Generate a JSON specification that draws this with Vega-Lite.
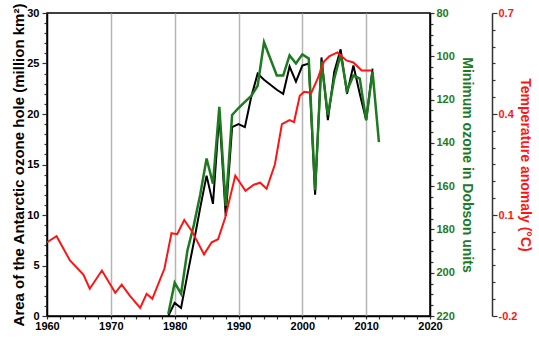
{
  "$schema": "https://vega.github.io/schema/vega-lite/v6.json",
  "width": 383,
  "height": 303,
  "autosize": {"type": "none"},
  "padding": {"left": 47, "top": 13, "right": 109, "bottom": 29},
  "background": "white",
  "datasets": {
    "area": [
      {"year": 1979, "area": 0.0}, {"year": 1980, "area": 1.3}, {"year": 1981, "area": 0.8},
      {"year": 1982, "area": 4.1}, {"year": 1983, "area": 7.3}, {"year": 1984, "area": 10.7},
      {"year": 1985, "area": 13.9}, {"year": 1986, "area": 11.1}, {"year": 1987, "area": 20.0},
      {"year": 1988, "area": 9.9}, {"year": 1989, "area": 18.7}, {"year": 1990, "area": 19.0},
      {"year": 1991, "area": 18.7}, {"year": 1992, "area": 21.7}, {"year": 1993, "area": 24.0},
      {"year": 1994, "area": 23.4}, {"year": 1996, "area": 22.4}, {"year": 1997, "area": 22.0},
      {"year": 1998, "area": 24.7}, {"year": 1999, "area": 23.2}, {"year": 2000, "area": 24.8},
      {"year": 2001, "area": 25.0}, {"year": 2002, "area": 12.0}, {"year": 2003, "area": 25.6},
      {"year": 2004, "area": 19.4}, {"year": 2005, "area": 24.2}, {"year": 2006, "area": 26.4},
      {"year": 2007, "area": 22.0}, {"year": 2008, "area": 24.8}, {"year": 2009, "area": 22.0},
      {"year": 2010, "area": 19.4}, {"year": 2011, "area": 24.5}
    ],
    "ozone": [
      {"year": 1979, "ozone": 219.1}, {"year": 1980, "ozone": 204.6}, {"year": 1981, "ozone": 209.7},
      {"year": 1982, "ozone": 189.7}, {"year": 1983, "ozone": 178.0}, {"year": 1984, "ozone": 164.0},
      {"year": 1985, "ozone": 147.2}, {"year": 1986, "ozone": 158.9}, {"year": 1987, "ozone": 123.4},
      {"year": 1988, "ozone": 169.1}, {"year": 1989, "ozone": 127.1}, {"year": 1990, "ozone": 123.9},
      {"year": 1991, "ozone": 121.1}, {"year": 1992, "ozone": 118.3}, {"year": 1993, "ozone": 113.6},
      {"year": 1994, "ozone": 93.5}, {"year": 1996, "ozone": 108.9}, {"year": 1997, "ozone": 108.9},
      {"year": 1998, "ozone": 99.6}, {"year": 1999, "ozone": 103.3}, {"year": 2000, "ozone": 99.1},
      {"year": 2001, "ozone": 101.0}, {"year": 2002, "ozone": 161.7}, {"year": 2003, "ozone": 102.4},
      {"year": 2004, "ozone": 127.1}, {"year": 2005, "ozone": 110.3}, {"year": 2006, "ozone": 99.1},
      {"year": 2007, "ozone": 115.9}, {"year": 2008, "ozone": 108.9}, {"year": 2009, "ozone": 110.3},
      {"year": 2010, "ozone": 129.5}, {"year": 2011, "ozone": 107.1}, {"year": 2012, "ozone": 139.7}
    ],
    "temp": [
      {"year": 1960.0, "temp": 0.019}, {"year": 1961.5, "temp": 0.037}, {"year": 1963.6, "temp": -0.035},
      {"year": 1965.7, "temp": -0.077}, {"year": 1966.7, "temp": -0.119}, {"year": 1968.6, "temp": -0.065},
      {"year": 1970.7, "temp": -0.131}, {"year": 1971.7, "temp": -0.107}, {"year": 1973.0, "temp": -0.14},
      {"year": 1974.6, "temp": -0.176}, {"year": 1975.6, "temp": -0.134}, {"year": 1976.5, "temp": -0.149},
      {"year": 1978.4, "temp": -0.059}, {"year": 1979.5, "temp": 0.046}, {"year": 1980.4, "temp": 0.043},
      {"year": 1981.5, "temp": 0.085}, {"year": 1982.7, "temp": 0.052}, {"year": 1984.6, "temp": -0.017},
      {"year": 1985.8, "temp": 0.019}, {"year": 1986.8, "temp": 0.028}, {"year": 1987.9, "temp": 0.091},
      {"year": 1989.5, "temp": 0.217}, {"year": 1991.1, "temp": 0.172}, {"year": 1992.4, "temp": 0.19},
      {"year": 1993.4, "temp": 0.196}, {"year": 1994.4, "temp": 0.178}, {"year": 1995.7, "temp": 0.25},
      {"year": 1996.8, "temp": 0.37}, {"year": 1998.0, "temp": 0.382}, {"year": 1998.7, "temp": 0.376},
      {"year": 1999.6, "temp": 0.454}, {"year": 2000.3, "temp": 0.466}, {"year": 2001.4, "temp": 0.463},
      {"year": 2002.4, "temp": 0.505}, {"year": 2003.4, "temp": 0.556}, {"year": 2004.2, "temp": 0.571},
      {"year": 2005.5, "temp": 0.583}, {"year": 2006.9, "temp": 0.559}, {"year": 2008.0, "temp": 0.553},
      {"year": 2009.3, "temp": 0.529}, {"year": 2010.8, "temp": 0.529}
    ]
  },
  "encoding": {
    "x": {
      "field": "year",
      "type": "quantitative",
      "scale": {"domain": [1960, 2020], "nice": false, "zero": false},
      "axis": {
        "title": null,
        "values": [1960,1962,1964,1966,1968,1970,1972,1974,1976,1978,1980,1982,1984,1986,1988,1990,1992,1994,1996,1998,2000,2002,2004,2006,2008,2010,2012,2014,2016,2018,2020],
        "labelExpr": "datum.value % 10 === 0 ? '' + datum.value : ''",
        "tickSize": 3,
        "labelPadding": 1,
        "grid": true,
        "gridColor": "#b5b5b5",
        "gridWidth": 1.5,
        "gridOpacity": {"condition": {"test": "datum.value % 10 === 0 && datum.value > 1960 && datum.value < 2020", "value": 1}, "value": 0},
        "labelColor": "black"
      }
    }
  },
  "layer": [
    {
      "data": {"name": "area"},
      "mark": {"type": "line", "color": "black", "strokeWidth": 2},
      "encoding": {
        "y": {
          "field": "area",
          "type": "quantitative",
          "scale": {"domain": [0, 30], "nice": false},
          "axis": {
            "orient": "left",
            "title": "Area of the Antarctic ozone hole (million km²)",
            "titleFontSize": 15,
            "titleColor": "black",
            "titlePadding": 0,
            "values": [0,1,2,3,4,5,6,7,8,9,10,11,12,13,14,15,16,17,18,19,20,21,22,23,24,25,26,27,28,29,30],
            "labelExpr": "datum.value % 5 === 0 ? '' + datum.value : ''",
            "tickSize": {"condition": {"test": "datum.value % 5 === 0", "value": 5}, "value": 3},
            "labelPadding": 3,
            "labelColor": "black",
            "grid": false
          }
        }
      }
    },
    {
      "data": {"name": "ozone"},
      "mark": {"type": "line", "color": "#1e7a1e", "strokeWidth": 2.5},
      "encoding": {
        "y": {
          "field": "ozone",
          "type": "quantitative",
          "scale": {"domain": [80, 220], "reverse": true, "nice": false, "zero": false},
          "axis": {
            "orient": "right",
            "title": "Minimum ozone in Dobson units",
            "titleFontSize": 14,
            "titleColor": "#1e7a1e",
            "titlePadding": 5,
            "values": [80,85,90,95,100,105,110,115,120,125,130,135,140,145,150,155,160,165,170,175,180,185,190,195,200,205,210,215,220],
            "labelExpr": "datum.value % 20 === 0 ? '' + datum.value : ''",
            "tickSize": {"condition": {"test": "datum.value % 20 === 0", "value": 4}, "value": 3},
            "labelPadding": 2,
            "labelColor": "#1e7a1e",
            "grid": false
          }
        }
      }
    },
    {
      "data": {"name": "temp"},
      "mark": {"type": "line", "color": "#ff1414", "strokeWidth": 2},
      "encoding": {
        "y": {
          "field": "temp",
          "type": "quantitative",
          "scale": {"domain": [-0.2, 0.7], "nice": false, "zero": false},
          "axis": {
            "orient": "right",
            "offset": 62,
            "title": "Temperature anomaly (°C)",
            "titleFontSize": 14,
            "titleColor": "#ff1414",
            "titlePadding": 1,
            "values": [-0.2,-0.15,-0.1,-0.05,0,0.05,0.1,0.15,0.2,0.25,0.3,0.35,0.4,0.45,0.5,0.55,0.6,0.65,0.7],
            "labelExpr": "abs(datum.value-0.7)<0.001 ? '0.7' : abs(datum.value-0.4)<0.001 ? '0.4' : abs(datum.value-0.1)<0.001 ? '0.1' : abs(datum.value+0.2)<0.001 ? '-0.2' : ''",
            "tickSize": {"condition": {"test": "abs(datum.value-0.7)<0.001 || abs(datum.value-0.4)<0.001 || abs(datum.value-0.1)<0.001 || abs(datum.value+0.2)<0.001", "value": 5}, "value": 3},
            "labelPadding": 1,
            "labelColor": "#ff1414",
            "domainColor": "#333333",
            "grid": false
          }
        }
      }
    }
  ],
  "resolve": {"scale": {"y": "independent"}, "axis": {"y": "independent"}},
  "config": {
    "view": {"stroke": "black", "strokeWidth": 1.5},
    "axis": {
      "labelFont": "Liberation Sans",
      "labelFontWeight": "bold",
      "labelFontSize": 11,
      "titleFont": "Liberation Sans",
      "titleFontWeight": "bold",
      "domainColor": "black",
      "domainWidth": 1.5,
      "tickColor": "#333333",
      "tickWidth": 1.2,
      "labelFlush": false,
      "labelOverlap": false
    }
  }
}
